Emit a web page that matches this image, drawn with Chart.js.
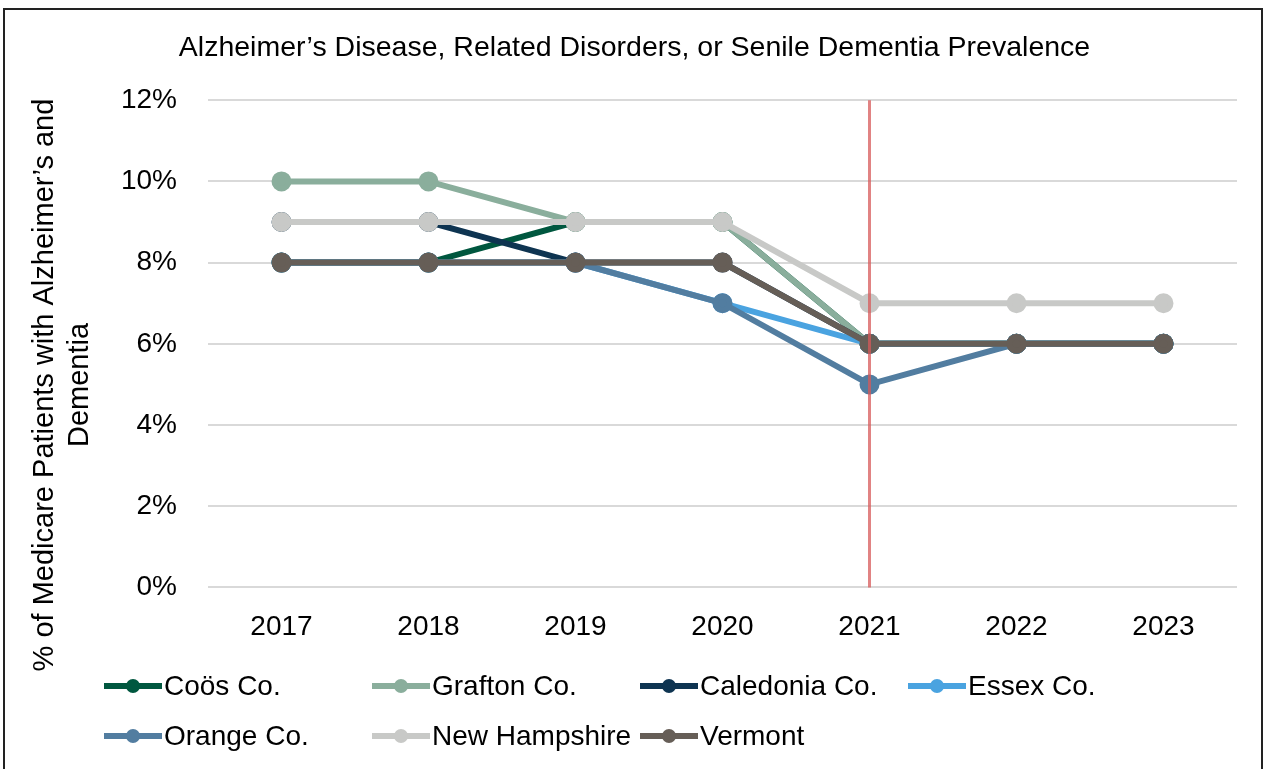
<!DOCTYPE html>
<html>
<head>
<meta charset="utf-8">
<script src="https://cdn.jsdelivr.net/npm/chart.js@4.4.1/dist/chart.umd.min.js"></script>
<style>
	html, body { margin: 0; padding: 0; background: #fff; }
	#wrap { position: relative; width: 1269px; height: 769px; }
	#frame { position: absolute; left: 3px; top: 8px; width: 1260px; height: 761px;
		border-top: 2px solid #222; border-left: 2px solid #222; border-right: 2px solid #222; box-sizing: border-box; }
	#legende { position: absolute; left: 104px; top: 667px; display: grid;
		grid-template-columns: 268px 268px 268px 268px; row-gap: 12px;
		font-family: "Liberation Sans", Arial, sans-serif; font-size: 28px; color: #000; }
	#legende div { display: flex; align-items: center; height: 38px; white-space: nowrap; }
	#legende span.marque { position: relative; display: inline-block; width: 58px; height: 6px; margin-right: 2px; flex: none; }
	#legende span.marque i { position: absolute; left: 22px; top: -4px; width: 14px; height: 14px; border-radius: 50%; }
</style>
</head>
<body>
<div id="wrap">
	<canvas id="graphique" width="1269" height="769"></canvas>
	<div id="frame"></div>
	<div id="legende"></div>
</div>
<script>
const annees = ["2017", "2018", "2019", "2020", "2021", "2022", "2023"];
const coos = [8, 8, 9, 9, 6, 6, 6];
const grafton = [10, 10, 9, 9, 6, 6, 6];
const caledonia = [9, 9, 8, 8, 6, 6, 6];
const essex = [8, 8, 8, 7, 6, 6, 6];
const orange = [8, 8, 8, 7, 5, 6, 6];
const newHampshire = [9, 9, 9, 9, 7, 7, 7];
const vermont = [8, 8, 8, 8, 6, 6, 6];
const anneeRepere = "2021";
const titreAxeY = ["% of Medicare Patients with Alzheimer’s and", "Dementia"];

const series = [
	{ nom: "Coös Co.", valeurs: coos, couleur: "#00573f" },
	{ nom: "Grafton Co.", valeurs: grafton, couleur: "#8aae9c" },
	{ nom: "Caledonia Co.", valeurs: caledonia, couleur: "#0e3451" },
	{ nom: "Essex Co.", valeurs: essex, couleur: "#4aa3e0" },
	{ nom: "Orange Co.", valeurs: orange, couleur: "#527da0" },
	{ nom: "New Hampshire", valeurs: newHampshire, couleur: "#c8c9c7" },
	{ nom: "Vermont", valeurs: vermont, couleur: "#665e57" },
];

const police = "'Liberation Sans', Arial, sans-serif";

// ligne verticale rouge sur 2021
const ligneRepere = {
	id: "ligneRepere",
	afterDatasetsDraw(chart) {
		const ctx = chart.ctx;
		const x = chart.scales.x.getPixelForValue(annees.indexOf(anneeRepere));
		ctx.save();
		ctx.strokeStyle = "rgba(215, 90, 90, 0.75)";
		ctx.lineWidth = 3;
		ctx.beginPath();
		ctx.moveTo(x, chart.chartArea.top);
		ctx.lineTo(x, chart.chartArea.bottom);
		ctx.stroke();
		ctx.restore();
	},
};

// titre de l'axe Y, centré un peu plus bas que l'axe (comme dans Excel)
const titreVertical = {
	id: "titreVertical",
	afterDraw(chart) {
		const ctx = chart.ctx;
		ctx.save();
		ctx.translate(0, 385);
		ctx.rotate(-Math.PI / 2);
		ctx.fillStyle = "#000";
		ctx.font = "29px " + police;
		ctx.textAlign = "center";
		ctx.textBaseline = "middle";
		for (let i = 0; i < titreAxeY.length; i++) {
			ctx.fillText(titreAxeY[i], 0, 45 + i * 35);
		}
		ctx.restore();
	},
};

const data = {
	labels: annees,
	datasets: series.map((s, i) => ({
		label: s.nom,
		data: s.valeurs,
		borderColor: s.couleur,
		backgroundColor: s.couleur,
		pointBackgroundColor: s.couleur,
		pointBorderColor: s.couleur,
		borderWidth: 6,
		pointRadius: 7,
		pointHoverRadius: 7,
		tension: 0,
		order: series.length - i,
	})),
};

const config = {
	type: "line",
	data: data,
	options: {
		responsive: false,
		animation: false,
		layout: { padding: { left: 32, right: 32, top: 20, bottom: 102 } },
		plugins: {
			legend: { display: false },
			tooltip: { enabled: false },
			title: {
				display: true,
				text: "Alzheimer’s Disease, Related Disorders, or Senile Dementia Prevalence",
				color: "#000",
				font: { family: police, size: 28.5, weight: "normal", lineHeight: 1.2 },
				padding: { top: 11, bottom: 35 },
			},
		},
		scales: {
			x: {
				offset: true,
				grid: { display: false, drawTicks: false },
				border: { display: false },
				ticks: { color: "#000", font: { family: police, size: 28 }, padding: 23 },
			},
			y: {
				min: 0,
				max: 12,
				afterFit: (scale) => {
					scale.width = 176;
				},
				ticks: {
					stepSize: 2,
					color: "#000",
					font: { family: police, size: 28 },
					padding: 31,
					callback: (v) => v + "%",
				},
				grid: { color: "#d9d9d9", lineWidth: 2, drawTicks: false },
				border: { display: false },
			},
		},
	},
	plugins: [ligneRepere, titreVertical],
};

const graphique = new Chart(document.querySelector("#graphique"), config);

// legende en grille, 4 colonnes
const legende = document.querySelector("#legende");
for (let i = 0; i < series.length; i++) {
	const item = document.createElement("div");
	item.innerHTML = `<span class="marque" style="background:${series[i].couleur}"><i style="background:${series[i].couleur}"></i></span>${series[i].nom}`;
	legende.appendChild(item);
}
</script>
</body>
</html>
